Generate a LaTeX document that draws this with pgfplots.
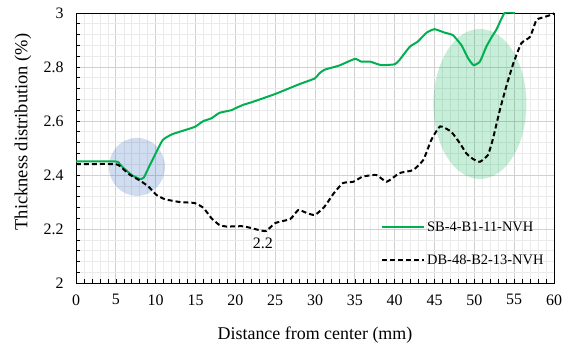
\documentclass[border=0pt]{standalone}
\usepackage{fontspec}
\setmainfont{Liberation Serif}
\usepackage{pgfplots}
\pgfplotsset{compat=1.18}
\definecolor{lgreen}{RGB}{0,176,80}
\definecolor{lblue}{RGB}{68,114,196}
\begin{document}
\begin{tikzpicture}
\useasboundingbox (0,0) rectangle (568bp,350bp);
\begin{axis}[
  at={(76bp,67bp)}, anchor=south west,
  scale only axis, width=478bp, height=270bp,
  xmin=0, xmax=60, ymin=2, ymax=3,
  xtick={0,5,10,15,20,25,30,35,40,45,50,55,60},
  ytick={2,2.2,2.4,2.6,2.8,3},
  yticklabels={2,2.2,2.4,2.6,2.8,3},
  minor x tick num=4, minor y tick num=4,
  grid=both,
  major grid style={draw={rgb,255:red,208;green,208;blue,208}, line width=0.8pt},
  minor grid style={draw={rgb,255:red,234;green,234;blue,234}, line width=0.6pt},
  tick pos=left, tick align=inside,
  major tick length=4bp, minor tick length=4bp,
  every tick/.style={black, line width=0.6pt},
  axis line style={black, line width=0.9pt},
  /pgf/number format/assume math mode=true,
  ticklabel style={font=\fontsize{16}{18}\selectfont},
  yticklabel style={xshift=-9bp},
  xticklabel style={yshift=-8bp},
  xlabel={Distance from center (mm)},
  ylabel={Thickness distribution (\%)},
  xlabel style={at={(axis description cs:0.5,-0.211)}, anchor=base, font=\fontsize{18}{20}\selectfont},
  ylabel style={at={(axis description cs:-0.111,0.559)}, anchor=center, rotate=0, font=\fontsize{18.5}{20}\selectfont},
  legend style={at={(0.638,0.236)}, anchor=north west, draw=none, fill=none,
    font=\fontsize{14.5}{16}\selectfont, row sep=18bp, inner sep=0pt,
    legend cell align=left},
  legend image code/.code={\draw[#1] (0bp,0bp) -- (42bp,0bp);},
  clip=true,
]
\fill[lblue, opacity=0.25] (axis cs:7.65,2.43) ellipse [x radius=28bp, y radius=29bp];
\fill[lgreen, opacity=0.22] (axis cs:50.7,2.663) ellipse [x radius=46.5bp, y radius=75bp];
\addplot[lgreen, line width=2pt, smooth, tension=0.3] coordinates {
(0,2.45)(5,2.45)(5.5,2.44)(6,2.425)(7,2.40)(8,2.385)(8.5,2.39)(9,2.42)(10,2.48)(10.9,2.53)(12,2.55)(13,2.56)(14.9,2.578)(15.5,2.59)(16,2.60)(17,2.61)(18,2.63)(19.5,2.64)(20,2.647)(21,2.66)(22,2.669)(25,2.70)(28,2.736)(30,2.758)(30.5,2.775)(31.2,2.79)(33,2.805)(35,2.83)(35.8,2.82)(36.9,2.82)(38.3,2.807)(40,2.81)(40.6,2.826)(41.9,2.875)(42.9,2.894)(44,2.927)(45,2.94)(46.3,2.927)(47.3,2.918)(48.4,2.88)(49.2,2.833)(49.9,2.807)(50.7,2.82)(51.5,2.875)(52.2,2.912)(52.8,2.94)(53.8,3.0)(55.1,3.0)
};
\addlegendentry{SB-4-B1-11-NVH}
\addplot[black, line width=2pt, dash pattern=on 5pt off 3pt, smooth, tension=0.3] coordinates {
(0,2.44)(5,2.44)(6,2.42)(6.8,2.40)(8,2.38)(9.1,2.357)(10.1,2.326)(11.2,2.31)(13,2.30)(14.9,2.296)(16,2.278)(17,2.24)(18,2.215)(18.9,2.209)(21,2.21)(23,2.196)(23.9,2.193)(25,2.222)(26.9,2.237)(27.9,2.27)(29,2.259)(30,2.252)(31.2,2.283)(32.3,2.33)(33.5,2.37)(34.8,2.375)(36,2.394)(37.7,2.40)(39,2.375)(40.6,2.407)(42.3,2.418)(43.6,2.456)(44.6,2.53)(45.7,2.58)(47.1,2.56)(48.2,2.517)(49,2.48)(49.8,2.46)(50.7,2.449)(51.7,2.474)(52.3,2.53)(53.2,2.64)(54,2.727)(54.9,2.814)(55.9,2.888)(57,2.912)(57.8,2.974)(58.8,2.985)(59.9,2.996)(60,3.0)
};
\addlegendentry{DB-48-B2-13-NVH}
\node[font=\fontsize{16}{18}\selectfont] at (axis cs:23.46,2.146) {2.2};
\end{axis}
\end{tikzpicture}
\end{document}
